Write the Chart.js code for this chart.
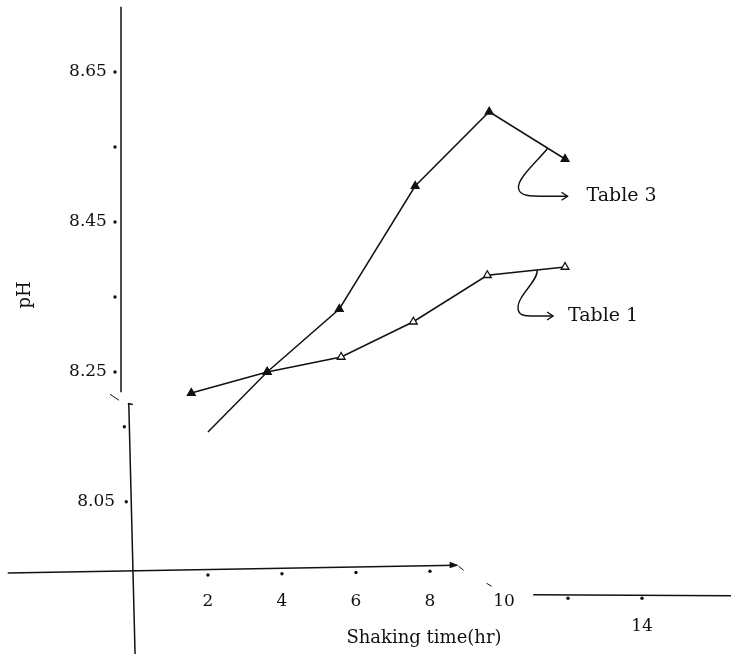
<!DOCTYPE html>
<html>
<head>
<meta charset="utf-8">
<script src="https://cdn.jsdelivr.net/npm/chart.js@4.4.1/dist/chart.umd.min.js"></script>
<style>
  html, body { margin: 0; background: #fff; }
  #wrap { width: 731px; height: 654px; }
</style>
</head>
<body>
<div id="wrap"><canvas id="chart"></canvas></div>
<script>
// values
const table1Hours = [1.55, 3.6, 5.6, 7.55, 9.55, 11.65]
const table1PH = [8.222, 8.25, 8.27, 8.317, 8.379, 8.39]
const table3Hours = [2.0, 3.6, 5.55, 7.6, 9.6, 11.65]
const table3PH = [8.17, 8.25, 8.334, 8.498, 8.597, 8.534]

// axis ticks
const hourTicks = [2, 4, 6, 8, 10]
const hourLabels = ['2', '4', '6', '8', '10']
const hourTicksRight = [12, 14]
const hourLabelsRight = ['', '14']
const phTicksUpper = [8.65, 8.55, 8.45, 8.35, 8.25]
const phLabelsUpper = ['8.65', '', '8.45', '', '8.25']
const phTicksLower = [8.15, 8.05]
const phLabelsLower = ['', '8.05']

const INK = '#111'
const FONT = "'DejaVu Serif', 'Liberation Serif', serif"

Chart.defaults.font.family = FONT
Chart.defaults.font.size = 17
Chart.defaults.color = INK

// scale boxes take no room, so the plot covers the whole canvas
function noRoom(scale) {
  scale.width = scale.isHorizontal() ? scale.width : 0
  scale.height = scale.isHorizontal() ? 0 : scale.height
  scale.paddingTop = scale.paddingBottom = scale.paddingLeft = scale.paddingRight = 0
}

function axis(min, max, pos, ticks, labels, padding) {
  return {
    type: 'linear', min, max, position: pos,
    grid: { display: false, drawTicks: false }, border: { display: false },
    afterBuildTicks: s => { s.ticks = ticks.map(v => ({ value: v })) },
    afterFit: noRoom,
    ticks: { autoSkip: false, maxRotation: 0, padding, callback: (v, i) => labels[i] }
  }
}

function line(ctx, x1, y1, x2, y2) {
  ctx.beginPath(); ctx.moveTo(x1, y1); ctx.lineTo(x2, y2); ctx.stroke()
}
function dot(ctx, px, py) {
  ctx.beginPath(); ctx.arc(px, py, 1.7, 0, Math.PI * 2); ctx.fill()
}
function chevron(ctx, tx, ty) {
  ctx.beginPath(); ctx.moveTo(tx - 6, ty - 4); ctx.lineTo(tx, ty); ctx.lineTo(tx - 6, ty + 4); ctx.stroke()
}

const sketch = {
  id: 'sketch',
  afterDatasetsDraw(chart) {
    const { ctx, scales: { x, x2, y, y2 } } = chart
    ctx.save()
    ctx.strokeStyle = INK
    ctx.fillStyle = INK
    ctx.lineWidth = 1.5

    // upper y axis
    const yx = x.getPixelForValue(-0.35)
    const yBreak = y.getPixelForValue(8.223)
    line(ctx, yx, y.getPixelForValue(8.737), yx, yBreak)
    phTicksUpper.forEach(v => dot(ctx, yx - 6, y.getPixelForValue(v)))
    ctx.lineWidth = 1
    line(ctx, yx - 11, yBreak + 2, yx - 2, yBreak + 8)

    // lower y axis, slightly leaning
    ctx.lineWidth = 1.5
    const lTop = y2.getPixelForValue(8.181)
    const lx1 = x.getPixelForValue(-0.14), lx2 = x.getPixelForValue(0.03)
    line(ctx, lx1, lTop, lx2, chart.height)
    line(ctx, lx1 - 1, lTop, lx1 + 4, lTop + 1)
    const lowerX = py => lx1 + (lx2 - lx1) * (py - lTop) / (chart.height - lTop)
    phTicksLower.forEach(v => { const py = y2.getPixelForValue(v); dot(ctx, lowerX(py) - 5, py) })

    // left part of x axis, slightly tilted, ending in an arrow
    const x0 = x.getPixelForValue(0)
    const base = y2.getPixelForValue(7.958)
    const tilt = px => base + (x0 - px) * 0.017
    const xa = x.getPixelForValue(-3.41), xb = x.getPixelForValue(8.72)
    line(ctx, xa, tilt(xa), xb, tilt(xb))
    ctx.beginPath()
    ctx.moveTo(xb + 2, tilt(xb)); ctx.lineTo(xb - 7, tilt(xb) - 3.5); ctx.lineTo(xb - 7, tilt(xb) + 3); ctx.closePath(); ctx.fill()
    hourTicks.slice(0, 4).forEach(v => { const px = x.getPixelForValue(v); dot(ctx, px, tilt(px) + 5.5) })
    ctx.lineWidth = 1
    line(ctx, xb + 2, tilt(xb) + 1, xb + 7, tilt(xb) + 5)
    line(ctx, xb + 30, tilt(xb) + 18, xb + 35, tilt(xb) + 21)

    // right part of x axis, after the break
    ctx.lineWidth = 1.5
    const ry = y2.getPixelForValue(7.926)
    line(ctx, x2.getPixelForValue(11.06), ry, chart.width, ry + 1)
    hourTicksRight.forEach(v => dot(ctx, x2.getPixelForValue(v), ry + 3.5))

    // curly pointers to the series names
    ctx.lineWidth = 1.4
    const m3 = 0.73
    const a3x = x.getPixelForValue(table3Hours[4] + (table3Hours[5] - table3Hours[4]) * m3)
    const a3y = y.getPixelForValue(table3PH[4] + (table3PH[5] - table3PH[4]) * m3)
    ctx.beginPath()
    ctx.moveTo(a3x + 3, a3y + 2)
    ctx.bezierCurveTo(a3x - 4, a3y + 12, a3x - 28, a3y + 32, a3x - 26, a3y + 42)
    ctx.bezierCurveTo(a3x - 25, a3y + 50, a3x - 15, a3y + 50, a3x + 2, a3y + 50)
    ctx.lineTo(a3x + 23, a3y + 50)
    ctx.stroke()
    chevron(ctx, a3x + 23, a3y + 50)

    const m1 = 0.64
    const a1x = x.getPixelForValue(table1Hours[4] + (table1Hours[5] - table1Hours[4]) * m1)
    const a1y = y.getPixelForValue(table1PH[4] + (table1PH[5] - table1PH[4]) * m1)
    ctx.beginPath()
    ctx.moveTo(a1x, a1y)
    ctx.bezierCurveTo(a1x + 2, a1y + 10, a1x - 20, a1y + 26, a1x - 19, a1y + 38)
    ctx.bezierCurveTo(a1x - 19, a1y + 46, a1x - 12, a1y + 46, a1x - 2, a1y + 46)
    ctx.lineTo(a1x + 16, a1y + 46)
    ctx.stroke()
    chevron(ctx, a1x + 16, a1y + 46)

    // texts
    ctx.font = '19px ' + FONT
    ctx.textBaseline = 'middle'
    ctx.textAlign = 'left'
    ctx.fillText('Table 3', a3x + 42, a3y + 50)
    ctx.fillText('Table 1', a1x + 31, a1y + 46)
    ctx.font = '18px ' + FONT
    ctx.textAlign = 'center'
    ctx.fillText('Shaking time(hr)', 424, 638)
    ctx.translate(25, 295)
    ctx.rotate(-Math.PI / 2)
    ctx.fillText('pH', 0, 0)
    ctx.restore()
  }
}

new Chart(document.getElementById('chart'), {
  type: 'line',
  data: {
    datasets: [
      {
        label: 'Table 1',
        data: table1Hours.map((h, i) => ({ x: h, y: table1PH[i] })),
        borderColor: INK, borderWidth: 1.5, tension: 0,
        pointStyle: 'triangle', pointRadius: 4.5, pointBorderWidth: 1.3,
        pointBorderColor: INK,
        pointBackgroundColor: ['#111', '#111', '#fff', '#fff', '#fff', '#fff']
      },
      {
        label: 'Table 3',
        data: table3Hours.map((h, i) => ({ x: h, y: table3PH[i] })),
        borderColor: INK, borderWidth: 1.5, tension: 0,
        pointStyle: 'triangle', pointRadius: [0, 4.5, 4.5, 4.5, 4.5, 4.5], pointBorderWidth: 1.3,
        pointBorderColor: INK, pointBackgroundColor: INK
      }
    ]
  },
  options: {
    responsive: true,
    maintainAspectRatio: false,
    animation: false,
    layout: { padding: 0, autoPadding: false },
    plugins: { legend: { display: false }, tooltip: { enabled: false } },
    scales: {
      x: axis(-3.62, 16.135, { y2: 7.958 }, hourTicks, hourLabels, 21),
      x2: axis(-3.35, 16.405, { y2: 7.926 }, hourTicksRight, hourLabelsRight, 22),
      y: axis(7.874, 8.746, { x: -0.73 }, phTicksUpper, phLabelsUpper, 0),
      y2: axis(7.847, 8.719, { x: -0.51 }, phTicksLower, phLabelsLower, 0)
    }
  },
  plugins: [sketch]
})
</script>
</body>
</html>
